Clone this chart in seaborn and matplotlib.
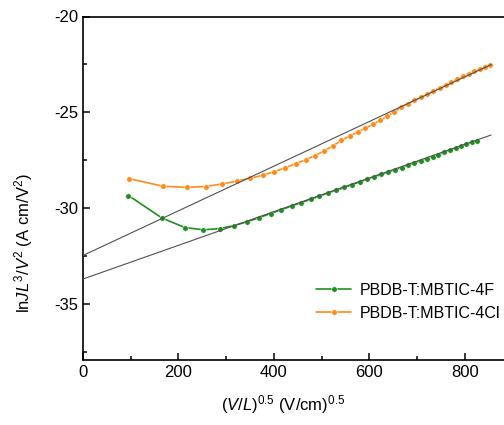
import matplotlib
matplotlib.use("Agg")
import matplotlib.pyplot as plt
import seaborn as sns
import pandas as pd
from matplotlib.ticker import MultipleLocator

# PBDB-T:MBTIC-4F
x_4f = [95.3, 165.1, 213.2, 252.3, 286.0, 316.2, 343.8, 369.3, 393.1, 415.6,
        436.9, 457.3, 476.7, 495.4, 513.4, 530.9, 547.7, 564.1, 579.9, 595.4,
        610.5, 625.2, 639.6, 653.6, 667.4, 680.9, 694.1, 707.1, 719.8, 732.3,
        744.6, 756.8, 768.7, 780.4, 792.0, 803.4, 814.6, 825.7]
y_4f = [-29.35, -30.52, -31.02, -31.14, -31.08, -30.92, -30.72, -30.50, -30.29, -30.09,
        -29.90, -29.72, -29.55, -29.38, -29.22, -29.07, -28.93, -28.78, -28.64, -28.50,
        -28.37, -28.25, -28.13, -28.01, -27.89, -27.77, -27.66, -27.54, -27.43, -27.32,
        -27.21, -27.10, -26.99, -26.88, -26.78, -26.68, -26.58, -26.48]

# PBDB-T:MBTIC-4Cl
x_4cl = [97.2, 168.4, 217.4, 257.3, 291.7, 322.5, 350.6, 376.6, 400.9, 423.9,
         445.6, 466.4, 486.2, 505.3, 523.7, 541.4, 558.6, 575.3, 591.5, 607.3,
         622.6, 637.6, 652.3, 666.7, 680.7, 694.4, 707.9, 721.2, 734.2, 746.9,
         759.5, 771.8, 784.0, 795.9, 807.7, 819.4, 830.8, 842.1, 853.3]
y_4cl = [-28.47, -28.87, -28.92, -28.88, -28.74, -28.60, -28.45, -28.29, -28.10, -27.90,
         -27.69, -27.48, -27.26, -27.02, -26.75, -26.47, -26.24, -26.03, -25.83, -25.63,
         -25.42, -25.20, -24.98, -24.74, -24.55, -24.38, -24.22, -24.06, -23.89, -23.73,
         -23.57, -23.42, -23.27, -23.12, -22.98, -22.85, -22.74, -22.64, -22.55]

# linear fits (end points)
fit_x = [0, 855]
fit_4f = [-33.71, -26.19]
fit_4cl = [-32.48, -22.51]

labels = ["PBDB-T:MBTIC-4F", "PBDB-T:MBTIC-4Cl"]
colors = ["#1f8f1f", "#ff8c1a"]

df = pd.concat([
    pd.DataFrame({"x": x_4f, "y": y_4f, "sample": labels[0]}),
    pd.DataFrame({"x": x_4cl, "y": y_4cl, "sample": labels[1]}),
])

sns.set_style("ticks")
plt.rcParams["font.family"] = ["Liberation Sans", "DejaVu Sans"]
plt.rcParams["mathtext.fontset"] = "custom"
plt.rcParams["mathtext.rm"] = "Liberation Sans"
plt.rcParams["mathtext.it"] = "Liberation Sans:italic"
plt.rcParams["axes.unicode_minus"] = False
plt.rcParams["text.color"] = "black"
plt.rcParams["axes.labelcolor"] = "black"
plt.rcParams["xtick.color"] = "black"
plt.rcParams["ytick.color"] = "black"
plt.rcParams["axes.edgecolor"] = "black"

fig = plt.figure(figsize=(5.04, 4.25), dpi=100)
ax = fig.add_axes([83 / 504, 1 - 360 / 425, 1 - 83 / 504, (360 - 16.5) / 425])

ax.plot(fit_x, fit_4f, color="#505050", lw=0.8, zorder=3)
ax.plot(fit_x, fit_4cl, color="#505050", lw=0.8, zorder=3)

sns.lineplot(data=df, x="x", y="y", hue="sample", palette=colors, marker="o",
             markersize=4, markeredgewidth=0.4, lw=1.2, sort=False, ax=ax, zorder=2)

ax.set_xlim(0, 882)
ax.set_ylim(-37.94, -20)
ax.xaxis.set_major_locator(MultipleLocator(200))
ax.xaxis.set_minor_locator(MultipleLocator(100))
ax.yaxis.set_major_locator(MultipleLocator(5))
ax.yaxis.set_minor_locator(MultipleLocator(2.5))
ax.tick_params(which="both", direction="in", top=False, right=False, labelsize=12, width=1.1)
ax.tick_params(which="major", length=5)
ax.tick_params(which="minor", length=3)
ax.spines["right"].set_visible(False)
for s in ["left", "bottom", "top"]:
    ax.spines[s].set_linewidth(1.2)

ax.set_xlabel(r"($\it{V}$/$\it{L}$)$^{0.5}$ (V/cm)$^{0.5}$", fontsize=12)
ax.set_ylabel(r"ln$\it{JL}^3$/$\it{V}^2$ (A cm/V$^2$)", fontsize=12)
ax.xaxis.set_label_coords(0.475, -0.095)
ax.yaxis.set_label_coords(-0.115, 0.34)

ax.legend(frameon=False, loc="center left", bbox_to_anchor=(0.52, 0.17),
          fontsize=11.5, handlelength=2.2, labelspacing=0.5, handletextpad=0.5)

fig.savefig("out.png", dpi=100)
